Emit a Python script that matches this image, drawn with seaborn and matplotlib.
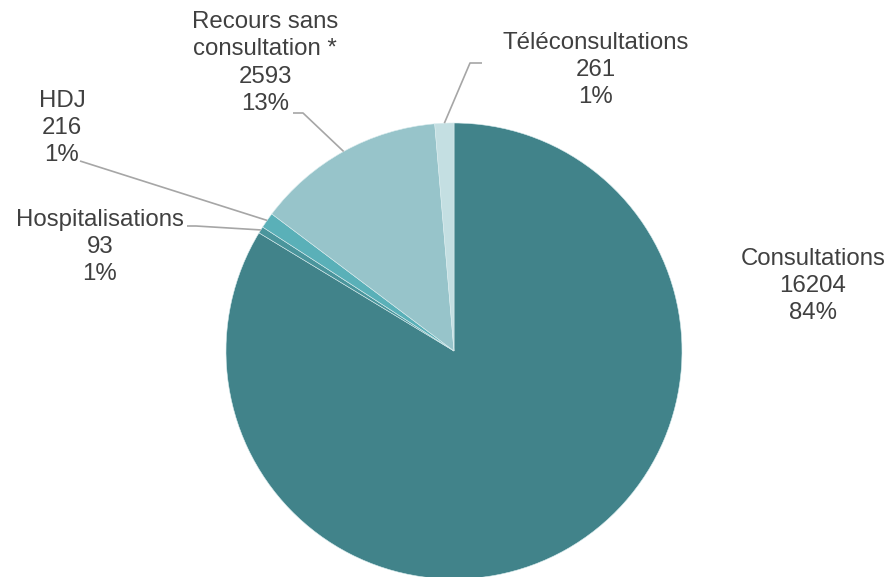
import numpy as np
import matplotlib
matplotlib.use("Agg")
import matplotlib.pyplot as plt
import seaborn as sns

# data
categories = ["Consultations", "Hospitalisations", "HDJ",
              "Recours sans\nconsultation *", "Téléconsultations"]
counts = [16204, 93, 216, 2593, 261]
pct_labels = ["84%", "1%", "1%", "13%", "1%"]
colors = ["#41838A", "#4A959C", "#5AB0B8", "#97C4CA", "#C4DFE2"]

sns.set_style("white")
plt.rcParams["font.family"] = ["Liberation Sans", "DejaVu Sans"]

W, H = 891, 577
fig = plt.figure(figsize=(W / 100, H / 100), dpi=100)
ax = fig.add_axes([0, 0, 1, 1])

def py(y):
    # pixel row -> data y
    return H - y

cx, cy, r = 454, py(351), 228
wedges, _ = ax.pie(counts, colors=colors, startangle=90, counterclock=False,
                   center=(cx, cy), radius=r,
                   wedgeprops=dict(linewidth=0.4, edgecolor="#d9ecee"))

ax.set_xlim(0, W)
ax.set_ylim(0, H)
ax.set_aspect("equal")
ax.axis("off")

# label centres and leader line points (pixel coords)
label_pos = [(813, 286), (100, 247), (62, 128), (265, 63), (596, 70)]
leaders = [None,
           [(187, 226), (196, 226)],
           [(80, 161)],
           [(293, 113), (303, 113)],
           [(482, 63), (470, 63)]]

text_color = "#404040"
line_color = "#A6A6A6"
for w, name, n, pct, (lx, ly), lead in zip(wedges, categories, counts,
                                            pct_labels, label_pos, leaders):
    ax.text(lx, py(ly), f"{name}\n{n}\n{pct}", ha="center", va="center",
            fontsize=17.3, color=text_color, linespacing=1.3)
    if lead is None:
        continue
    mid = np.deg2rad((w.theta1 + w.theta2) / 2)
    ax_pt = (cx + r * np.cos(mid), cy + r * np.sin(mid))
    xs = [p[0] for p in lead] + [ax_pt[0]]
    ys = [py(p[1]) for p in lead] + [ax_pt[1]]
    ax.plot(xs, ys, color=line_color, lw=1.2, solid_capstyle="butt")

fig.savefig("out.png", dpi=100)
